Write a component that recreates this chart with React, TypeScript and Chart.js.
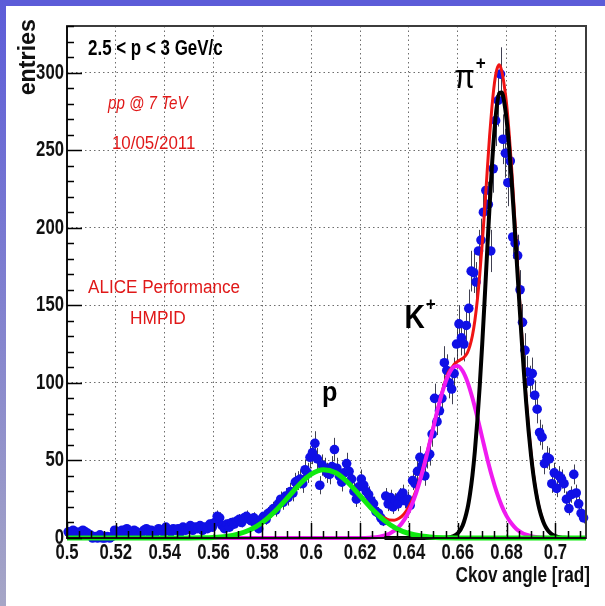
import React, { useEffect, useRef } from "react";
import { Chart, registerables } from "chart.js";

Chart.register(...registerables);

// ---------- data ----------
const BIN_LOW = 0.5;
const BIN_WIDTH = 0.001;
const COUNTS = [
  4, 3, 5, 4, 3, 4, 5, 4, 3,
  2, 0, 1, 0, 2, 0, 0, 1, 0, 1,
  5, 4, 3, 5, 4, 6, 3, 4, 5, 4, 2, 3, 5, 6, 4, 5, 3, 4, 6, 5, 4, 7, 5, 4, 6, 5,
  6, 4, 7, 5, 6, 8, 5, 7, 6, 8, 5, 7, 6, 9, 7,
  10, 14, 13, 8, 6, 9, 7, 10,
  9, 11, 12, 10, 13, 14, 12, 11, 13, 9, 6, 12,
  14, 12, 16, 17, 19, 18, 22, 25, 23, 27, 26, 30, 29, 36, 37, 38, 35, 44, 42, 52,
  55, 61, 51, 34, 47, 45, 42, 41, 46, 57, 45, 40, 36, 42, 48, 43, 38, 30, 25, 33,
  38, 34, 30, 28, 24, 22, 17, 16, 13, 11, 27, 22, 26, 20, 24, 22, 27, 29, 24, 25,
  21, 37, 35, 43, 52, 47, 40, 52, 54, 67, 90, 75, 82, 90, 113, 108, 100, 96, 106, 125,
  138, 129, 125, 137, 148, 172, 171, 165, 185, 192, 210, 224, 215, 185, 238, 269, 282, 299, 257, 248,
  229, 243, 194, 190, 182, 160, 139, 121, 107, 101, 106, 92, 83, 68, 65, 48, 52, 51, 35, 42,
  32, 40, 38, 35, 25, 19, 28, 41, 29, 22, 16, 13,
];

const PROTON_X = [0.5, 0.52, 0.54, 0.55, 0.555, 0.56, 0.565, 0.57, 0.575, 0.58, 0.585, 0.59, 0.595, 0.6, 0.605, 0.61, 0.615, 0.62, 0.625, 0.63, 0.635, 0.64, 0.645, 0.65, 0.655, 0.66, 0.67, 0.69, 0.7125];
const PROTON_Y = [0, 0, 0, 0.02, 0.13, 0.39, 1.04, 2.5, 5.3, 10.0, 16.9, 25.4, 34.2, 41.1, 44.0, 42.0, 35.8, 27.2, 18.5, 11.2, 6.0, 2.9, 1.25, 0.48, 0.16, 0.05, 0, 0, 0];

const KAON_X = [0.56, 0.6, 0.62, 0.624, 0.628, 0.632, 0.636, 0.638, 0.64, 0.642, 0.644, 0.646, 0.648, 0.65, 0.652, 0.654, 0.656, 0.658, 0.66, 0.662, 0.664, 0.666, 0.668, 0.67, 0.672, 0.674, 0.676, 0.678, 0.68, 0.682, 0.684, 0.686, 0.688, 0.69, 0.692, 0.694, 0.7];
const KAON_Y = [0, 0, 0.05, 0.23, 0.86, 2.7, 7.4, 11.5, 17.2, 24.7, 34.2, 45.4, 58.1, 71.3, 84.2, 95.7, 104.5, 109.8, 110.9, 107.6, 100.5, 90.2, 77.9, 64.7, 51.6, 39.6, 29.2, 20.7, 14.1, 9.3, 5.8, 3.6, 2.1, 1.2, 0.6, 0.3, 0];

const PION_X = [0.63, 0.65, 0.655, 0.658, 0.66, 0.662, 0.664,
  0.665, 0.666, 0.667, 0.668, 0.669, 0.67, 0.671, 0.672, 0.673, 0.674,
  0.675, 0.676, 0.677, 0.678, 0.679, 0.68, 0.681, 0.682, 0.683, 0.684,
  0.685, 0.686, 0.687, 0.688, 0.689, 0.69, 0.691, 0.692, 0.693, 0.694,
  0.695, 0.696, 0.697, 0.698, 0.699, 0.7, 0.702, 0.705];
const PION_Y = [0, 0, 0.2, 1.0, 3.0, 8.1, 19.2,
  28.3, 40.3, 56.0, 75.4, 98.4, 124.8, 153.7, 183.7, 213.2, 240.1,
  262.4, 278.5, 286.9, 287.2, 281.1, 269.2, 252.4, 231.3, 207.6, 182.4,
  156.7, 131.9, 108.5, 87.5, 68.9, 53.2, 40.1, 29.7, 21.4, 15.2,
  10.5, 7.1, 4.7, 3.1, 1.9, 1.2, 0.4, 0];

const TOTAL_X = [0.625, 0.628, 0.63, 0.632, 0.634, 0.636, 0.638, 0.64, 0.642, 0.644, 0.646, 0.648, 0.65, 0.652, 0.654, 0.656, 0.658,
  0.659, 0.66, 0.661, 0.662, 0.663, 0.664, 0.665, 0.666, 0.667, 0.668,
  0.669, 0.67, 0.671, 0.672, 0.673, 0.674, 0.675, 0.676, 0.677, 0.678,
  0.679, 0.68, 0.681, 0.682, 0.683, 0.684, 0.685, 0.686, 0.687, 0.688,
  0.689, 0.69, 0.691, 0.692, 0.693, 0.694, 0.695];
const TOTAL_Y = [18.7, 14.7, 12.8, 11.6, 11.5, 12.7, 15.5, 20.1, 26.8, 35.7, 46.4, 58.8, 71.8, 84.5, 96.5, 106.2, 110.8,
  112.7, 113.9, 114.8, 115.7, 117.2, 119.7, 124.0, 130.5, 140.2, 153.3,
  169.7, 189.5, 211.8, 235.3, 258.6, 278.0, 293.0, 302.0, 305.0, 301.0,
  292.0, 279.5, 261.5, 239.5, 214.5, 188.0, 161.3, 135.5, 111.2, 89.6,
  70.5, 54.4, 41.0, 30.3, 21.9, 15.5, 10.7];

const X_TICKS = [0.5, 0.52, 0.54, 0.56, 0.58, 0.6, 0.62, 0.64, 0.66, 0.68, 0.7];
const X_TICK_LABELS = ["0.5", "0.52", "0.54", "0.56", "0.58", "0.6", "0.62", "0.64", "0.66", "0.68", "0.7"];
const Y_TICKS = [0, 50, 100, 150, 200, 250, 300];
const Y_TICK_LABELS = ["0", "50", "100", "150", "200", "250", "300"];
const X_MIN = 0.5;
const X_MAX = 0.7125;
const Y_MIN = 0;
const Y_MAX = 330;
const X_MINOR_STEP = 0.005;
const Y_MINOR_STEP = 10;
const X_TITLE = "Ckov angle [rad]";
const Y_TITLE = "entries";

const FAM = "'Liberation Sans', Arial, Helvetica, sans-serif";

type Label = { text: string; sup?: string; x: number; y: number; color: string; size: number; weight?: string; style?: string; align?: CanvasTextAlign; sx?: number };
const LABELS: Label[] = [
  { text: "2.5 < p < 3 GeV/c", x: 0.5086, y: 315, color: "#000", size: 22, weight: "bold", sx: 0.77 },
  { text: "pp @ 7 TeV", x: 0.5168, y: 280, color: "#e01818", size: 18, style: "italic", sx: 0.84 },
  { text: "10/05/2011", x: 0.5184, y: 254, color: "#e01818", size: 18, sx: 0.94 },
  { text: "ALICE Performance", x: 0.5086, y: 161, color: "#e01818", size: 18, sx: 0.95 },
  { text: "HMPID", x: 0.5258, y: 141, color: "#e01818", size: 18, sx: 0.96 },
  { text: "p", x: 0.6076, y: 93, color: "#000", size: 28, weight: "bold", align: "center", sx: 0.9 },
  { text: "K", sup: "+", x: 0.6382, y: 141, color: "#000", size: 33, weight: "bold", sx: 0.85 },
  { text: "\u03c0", sup: "+", x: 0.6586, y: 296, color: "#000", size: 33, sx: 0.9 },
];

function drawText(ctx: CanvasRenderingContext2D, text: string, x: number, y: number, font: string, color: string, align: CanvasTextAlign, sx: number, rot = 0) {
  ctx.save();
  ctx.translate(x, y);
  if (rot) ctx.rotate(rot);
  ctx.scale(sx, 1);
  ctx.font = font;
  ctx.fillStyle = color;
  ctx.textAlign = align;
  ctx.textBaseline = "middle";
  ctx.fillText(text, 0, 0);
  const w = ctx.measureText(text).width * sx;
  ctx.restore();
  return w;
}

const rootPlugin = {
  id: "rootStyle",
  beforeDatasetsDraw(chart: any) {
    const { ctx, chartArea: a, scales } = chart;
    const xs = scales.x, ys = scales.y;
    ctx.save();
    ctx.beginPath();
    ctx.rect(a.left, a.top - 4, a.right - a.left, a.bottom - a.top + 4);
    ctx.clip();
    ctx.strokeStyle = "rgba(30,30,50,0.85)";
    ctx.lineWidth = 1;
    COUNTS.forEach((c, i) => {
      const xc = BIN_LOW + (i + 0.5) * BIN_WIDTH;
      const e = Math.sqrt(c);
      if (e <= 0) return;
      const px = Math.round(xs.getPixelForValue(xc)) + 0.5;
      ctx.beginPath();
      ctx.moveTo(px, ys.getPixelForValue(Math.max(0, c - e)));
      ctx.lineTo(px, ys.getPixelForValue(c + e));
      ctx.stroke();
    });
    ctx.restore();
  },
  afterDraw(chart: any) {
    const { ctx, chartArea: a, scales } = chart;
    const xs = scales.x, ys = scales.y;
    ctx.save();
    // frame
    ctx.strokeStyle = "#3c3c3c";
    ctx.lineWidth = 2;
    ctx.strokeRect(a.left, a.top, a.right - a.left, a.bottom - a.top);
    ctx.strokeStyle = "#000";
    ctx.lineWidth = 1.5;
    ctx.beginPath();
    ctx.moveTo(a.left, a.top);
    ctx.lineTo(a.left, a.bottom);
    ctx.lineTo(a.right, a.bottom);
    ctx.stroke();
    // inward ticks
    ctx.lineWidth = 1.5;
    ctx.beginPath();
    for (let v = Y_MIN; v <= Y_MAX + 1e-9; v += Y_MINOR_STEP) {
      const major = Y_TICKS.includes(v);
      const py = Math.round(ys.getPixelForValue(v)) + 0.5;
      ctx.moveTo(a.left, py);
      ctx.lineTo(a.left + (major ? 15 : 7), py);
    }
    for (let k = 0; ; k++) {
      const v = X_MIN + k * X_MINOR_STEP;
      if (v > X_MAX + 1e-9) break;
      const major = k % 4 === 0;
      const px = Math.round(xs.getPixelForValue(v)) + 0.5;
      ctx.moveTo(px, a.bottom);
      ctx.lineTo(px, a.bottom - (major ? 15 : 7));
    }
    ctx.stroke();
    // tick labels
    const tf = `bold 22px ${FAM}`;
    Y_TICKS.forEach((v, i) => {
      drawText(ctx, Y_TICK_LABELS[i], a.left - 3, ys.getPixelForValue(v), tf, "#111", "right", 0.76);
    });
    X_TICKS.forEach((v, i) => {
      drawText(ctx, X_TICK_LABELS[i], xs.getPixelForValue(v), a.bottom + 15, tf, "#111", "center", 0.76);
    });
    // axis titles
    drawText(ctx, X_TITLE, a.right + 4, a.bottom + 38, `bold 22px ${FAM}`, "#111", "right", 0.78);
    drawText(ctx, Y_TITLE, 28, a.top - 7, `bold 24px ${FAM}`, "#111", "right", 0.97, -Math.PI / 2);
    // annotations
    LABELS.forEach((l) => {
      const px = xs.getPixelForValue(l.x);
      const py = ys.getPixelForValue(l.y);
      const w = drawText(ctx, l.text, px, py, `${l.style || "normal"} ${l.weight || "normal"} ${l.size}px ${FAM}`, l.color, l.align || "left", l.sx || 1);
      if (l.sup) {
        drawText(ctx, l.sup, px + w + 1, py - l.size * 0.45, `bold ${Math.round(l.size * 0.58)}px ${FAM}`, l.color, "left", 0.9);
      }
    });
    ctx.restore();
  },
};

export default function App() {
  const ref = useRef<HTMLCanvasElement | null>(null);
  useEffect(() => {
    if (!ref.current) return;
    const points = COUNTS.map((c, i) => ({ x: BIN_LOW + (i + 0.5) * BIN_WIDTH, y: c }));
    const curve = (xs: number[], ys: number[]) => xs.map((x, i) => ({ x, y: ys[i] }));
    const lineDs = (label: string, data: any[], color: string, width: number, order: number) => ({
      label,
      data,
      showLine: true,
      borderColor: color,
      backgroundColor: color,
      borderWidth: width,
      pointRadius: 0,
      fill: false,
      cubicInterpolationMode: "monotone",
      clip: 6,
      order,
    });
    const chart = new Chart(ref.current, {
      type: "scatter",
      data: {
        datasets: [
          lineDs("p", curve(PROTON_X, PROTON_Y), "#10ea10", 5, 1) as any,
          lineDs("pi", curve(PION_X, PION_Y), "#000000", 4, 2) as any,
          lineDs("K", curve(KAON_X, KAON_Y), "#f01af0", 4, 3) as any,
          lineDs("total", curve(TOTAL_X, TOTAL_Y), "#f01414", 3, 4) as any,
          {
            label: "data",
            data: points,
            pointRadius: 4.8,
            pointBorderWidth: 0,
            pointBackgroundColor: "#1010e6",
            pointBorderColor: "#1010e6",
            showLine: false,
            clip: 6,
            order: 5,
          } as any,
        ],
      },
      options: {
        animation: false,
        responsive: false,
        devicePixelRatio: 1,
        events: [],
        layout: { padding: { left: 0, top: 26, right: 19, bottom: 0 } },
        plugins: { legend: { display: false }, tooltip: { enabled: false } },
        scales: {
          x: {
            type: "linear",
            min: X_MIN,
            max: X_MAX,
            afterBuildTicks: (s: any) => { s.ticks = X_TICKS.map((v) => ({ value: v })); },
            afterFit: (s: any) => { s.height = 68; },
            grid: {
              drawTicks: false,
              lineWidth: 1,
              color: (c: any) => (c.tick && c.tick.value === X_MIN ? "rgba(0,0,0,0)" : "rgba(60,60,60,0.75)"),
            },
            border: { display: false, dash: [1.5, 3] },
            ticks: { display: false },
          },
          y: {
            type: "linear",
            min: Y_MIN,
            max: Y_MAX,
            afterBuildTicks: (s: any) => { s.ticks = Y_TICKS.map((v) => ({ value: v })); },
            afterFit: (s: any) => { s.width = 67; },
            grid: {
              drawTicks: false,
              lineWidth: 1,
              color: (c: any) => (c.tick && c.tick.value === Y_MIN ? "rgba(0,0,0,0)" : "rgba(60,60,60,0.75)"),
            },
            border: { display: false, dash: [1.5, 3] },
            ticks: { display: false },
          },
        },
      },
      plugins: [rootPlugin as any],
    });
    return () => chart.destroy();
  }, []);

  return (
    <div style={{ position: "fixed", left: 0, top: 0, width: 605, height: 606, background: "#fff", overflow: "hidden" }}>
      <div style={{ position: "absolute", left: 0, top: 0, width: 605, height: 6, background: "#5c5cd8" }} />
      <div style={{ position: "absolute", left: 0, top: 0, width: 6, height: 606, background: "linear-gradient(#5c5cd8, #a6a6c6)" }} />
      <canvas ref={ref} width={605} height={606} style={{ position: "absolute", left: 0, top: 0, width: 605, height: 606 }} />
    </div>
  );
}
